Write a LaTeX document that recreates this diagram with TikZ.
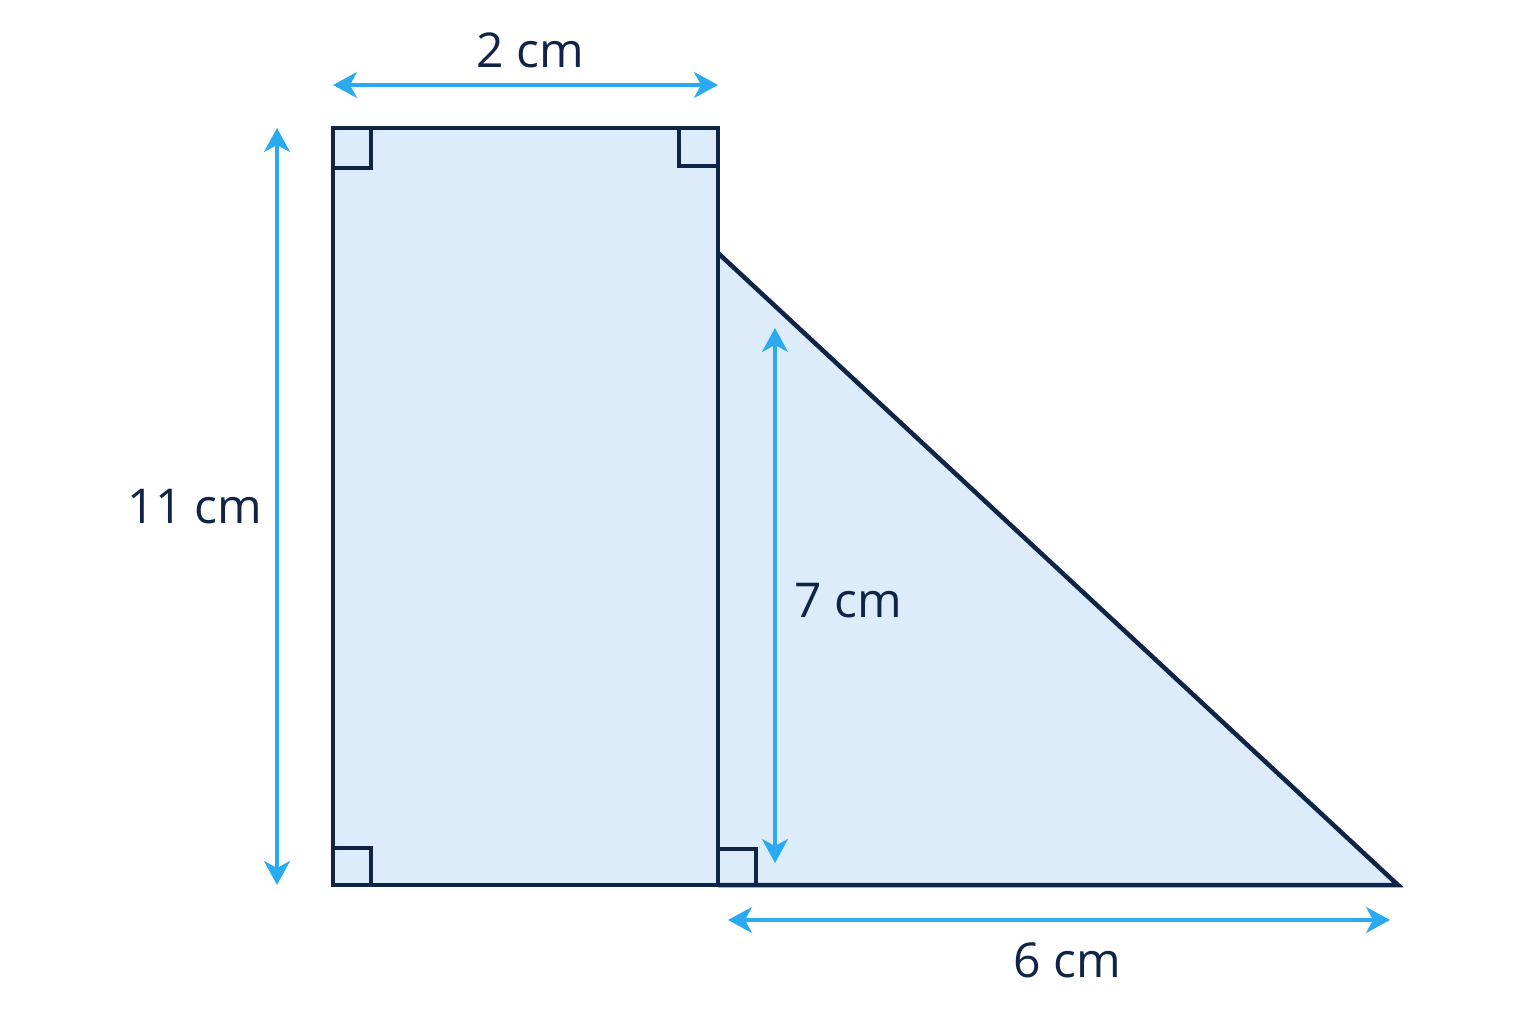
\documentclass[tikz,border=0pt]{standalone}
\usepackage{fontspec}
\setmainfont{Open Sans}
\usetikzlibrary{arrows.meta}
\definecolor{navy}{HTML}{102448}
\definecolor{fillblue}{HTML}{DDECFB}
\definecolor{dimblue}{HTML}{2AAAF0}
\tikzset{
  outline/.style={draw=navy, line width=4.5pt, line join=miter},
  ramark/.style={draw=navy, line width=3.8pt},
  dim/.style={draw=dimblue, line width=3.2pt, {Stealth[length=24pt,width=26pt,inset=7pt]}-{Stealth[length=24pt,width=26pt,inset=7pt]}},
  lbl/.style={text=navy, font=\fontsize{48}{54}\selectfont, inner sep=0pt}
}
\begin{document}
\begin{tikzpicture}[x=1pt,y=-1pt]
\useasboundingbox[fill=white] (0,0) rectangle (1536,1024);
% corners
\coordinate (A) at (333,128);
\coordinate (B) at (718,128);
\coordinate (C) at (718,885);
\coordinate (D) at (333,885);
\coordinate (T) at (718,253);
\coordinate (E) at (1398,885);
% fills
\fill[fillblue] (A) -- (B) -- (C) -- (D) -- cycle;
\fill[fillblue] (T) -- (E) -- (C) -- cycle;
% right angle marks
\draw[ramark] (333,168) -- (371,168) -- (371,128);
\draw[ramark] (679,128) -- (679,166) -- (718,166);
\draw[ramark] (333,848) -- (371,848) -- (371,885);
\draw[ramark] (718,849) -- (756,849) -- (756,885);
% outlines
\draw[outline] (A) -- (B) -- (C) -- (D) -- cycle;
\draw[outline] (T) -- (E) -- (C);
% dimension endpoints
\coordinate (t1) at (333,85);
\coordinate (t2) at (718,85);
\coordinate (l1) at (277,128);
\coordinate (l2) at (277,885);
\coordinate (i1) at (775,328);
\coordinate (i2) at (775,863);
\coordinate (b1) at (728,920);
\coordinate (b2) at (1390,920);
\draw[dim] (t1) -- (t2);
\draw[dim] (l1) -- (l2);
\draw[dim] (i1) -- (i2);
\draw[dim] (b1) -- (b2);
% labels
\node[lbl] (w) at (530,50) {2 cm};
\node[lbl] (h) at (195,507) {11 cm};
\node[lbl] (th) at (848,601) {7 cm};
\node[lbl] (bw) at (1067,960) {6 cm};
\end{tikzpicture}
\end{document}
